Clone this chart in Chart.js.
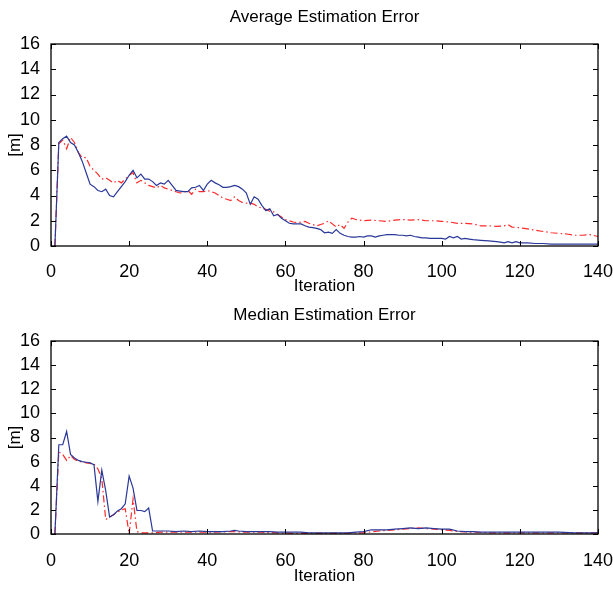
<!DOCTYPE html>
<html>
<head>
<meta charset="utf-8">
<script src="https://cdn.jsdelivr.net/npm/chart.js@4.4.1/dist/chart.umd.min.js"></script>
<style>
  html, body { margin: 0; padding: 0; background: #fff; }
  #wrap { position: relative; width: 613px; height: 590px; }
  canvas { position: absolute; left: 0; }
  #c1 { top: 0; }
  #c2 { top: 300px; }
</style>
</head>
<body>
<div id="wrap">
  <canvas id="c1" width="613" height="300"></canvas>
  <canvas id="c2" width="613" height="290"></canvas>
</div>
<script>
// ---- Data ----
const xTicks = [0, 20, 40, 60, 80, 100, 120, 140];
const yTicks = [0, 2, 4, 6, 8, 10, 12, 14, 16];

// Average Estimation Error – blue solid
const avgBlueIter = [1,2,3,4,5,6,7,8,9,10,11,12,13,14,15,16,17,18,19,20,21,22,23,24,25,26,27,28,29,30,31,32,33,34,35,36,37,38,39,40,41,42,43,44,45,46,47,48,49,50,51,52,53,54,55,56,57,58,59,60,61,62,63,64,65,66,67,68,69,70,71,72,73,74,75,76,77,78,79,80,81,82,83,84,85,86,87,88,89,90,91,92,93,94,95,96,97,98,99,100,101,102,103,104,105,106,107,108,110,112,114,115,116,117,118,119,120,122,124,126,128,130,132,134,136,138,140];
const avgBlueVal  = [0,8.2,8.5,8.7,8.2,8.0,7.4,6.7,5.8,4.9,4.7,4.4,4.3,4.5,4.0,3.9,4.3,4.7,5.1,5.6,6.0,5.4,5.7,5.3,5.3,5.1,4.8,5.0,4.9,5.2,4.8,4.4,4.35,4.3,4.3,4.6,4.65,4.8,4.4,4.9,5.2,5.0,4.85,4.65,4.65,4.7,4.8,4.7,4.5,4.2,3.3,3.9,3.7,3.2,2.8,2.95,2.4,2.5,2.2,2.0,1.8,1.75,1.75,1.75,1.6,1.5,1.45,1.4,1.3,1.05,1.1,1.0,1.3,1.0,0.85,0.75,0.7,0.7,0.75,0.7,0.8,0.8,0.7,0.8,0.85,0.9,0.9,0.9,0.85,0.85,0.8,0.85,0.75,0.7,0.65,0.65,0.6,0.6,0.6,0.6,0.55,0.75,0.65,0.75,0.55,0.6,0.55,0.5,0.45,0.4,0.35,0.3,0.25,0.35,0.25,0.35,0.25,0.25,0.2,0.2,0.15,0.15,0.15,0.15,0.15,0.15,0.15];

// Average Estimation Error – red dash-dot
const avgRedIter = [1,2,3,4,5,6,7,8,9,10,11,12,13,14,15,16,17,18,19,20,21,22,23,24,25,26,27,28,29,30,31,32,33,34,35,36,37,38,39,40,41,42,43,44,45,46,47,48,49,50,51,52,53,54,55,56,57,58,59,60,61,62,63,64,65,66,67,68,69,70,71,72,73,74,75,76,77,78,80,82,84,86,88,90,92,94,96,98,100,102,104,106,108,110,112,114,116,117,118,120,122,124,126,128,130,132,134,136,138,140];
const avgRedVal  = [0,8.1,8.4,7.7,8.6,8.2,7.4,7.0,7.0,6.3,6.0,5.7,5.3,5.4,5.2,5.0,5.2,5.0,5.3,5.6,5.8,5.0,5.2,5.0,4.8,4.7,4.6,4.8,4.6,4.5,4.4,4.3,4.2,4.25,4.4,4.1,4.5,4.3,4.3,4.4,4.3,4.2,4.0,3.8,3.7,3.6,3.9,3.6,3.45,3.4,3.4,3.3,3.1,3.0,2.9,2.75,2.7,2.5,2.3,2.1,2.0,1.9,1.85,1.9,1.95,1.8,1.7,1.6,1.7,1.8,2.0,1.75,1.5,1.7,1.4,1.9,2.2,2.1,2.0,2.05,2.0,1.95,2.05,2.1,2.05,2.1,2.0,2.0,1.95,1.9,1.8,1.8,1.75,1.6,1.6,1.55,1.6,1.7,1.5,1.45,1.35,1.25,1.15,1.05,1.0,0.95,0.85,0.85,0.9,0.75];

// Median Estimation Error – blue solid
const medBlueIter = [1,2,3,4,5,6,7,8,9,10,11,12,13,14,15,16,17,18,19,20,21,22,23,24,25,26,28,30,32,34,36,38,40,42,44,46,47,48,50,52,54,56,58,60,62,64,66,68,70,72,74,76,78,80,82,84,86,88,90,92,94,96,98,100,102,104,106,108,110,114,118,122,126,130,134,140];
const medBlueVal  = [0,7.4,7.4,8.5,6.6,6.3,6.1,6.0,5.95,5.9,5.75,2.7,5.3,3.6,1.4,1.6,1.9,2.1,2.5,4.8,3.8,1.95,1.95,1.85,2.15,0.25,0.25,0.25,0.2,0.25,0.2,0.25,0.2,0.2,0.2,0.25,0.3,0.25,0.2,0.2,0.2,0.2,0.15,0.15,0.15,0.15,0.1,0.1,0.1,0.1,0.1,0.1,0.15,0.2,0.35,0.35,0.35,0.4,0.45,0.5,0.45,0.5,0.45,0.4,0.4,0.25,0.2,0.2,0.15,0.15,0.15,0.15,0.15,0.15,0.1,0.1];

// Median Estimation Error – red dash-dot
const medRedIter = [1,2,3,4,5,6,7,8,9,10,11,12,13,14,15,16,17,18,19,20,21,22,23,24,26,28,30,34,38,42,46,50,54,58,62,66,70,74,78,80,84,88,90,92,94,96,98,100,102,104,108,112,116,120,124,130,140];
const medRedVal  = [0,6.8,6.6,6.1,6.5,6.2,6.0,6.0,5.9,5.85,5.8,5.4,4.6,1.2,1.4,1.6,1.8,2.0,2.1,0,2.9,0.2,0.1,0.1,0.1,0.15,0.15,0.15,0.15,0.15,0.2,0.15,0.15,0.1,0.05,0.05,0.05,0.05,0.1,0.1,0.25,0.35,0.4,0.45,0.5,0.45,0.4,0.35,0.3,0.2,0.15,0.1,0.1,0.1,0.1,0.1,0.1];

const titles = ['Average Estimation Error', 'Median Estimation Error'];
const xLabel = 'Iteration';
const yLabel = '[m]';

// ---- Styling ----
const FONT = "'Liberation Sans', Arial, Helvetica, sans-serif";
const BLUE = '#2a3898';
const RED = '#ff2a2a';

function pts(xs, ys) { return xs.map((x, i) => ({ x: x, y: ys[i] })); }

const boxTicks = {
  id: 'boxTicks',
  afterDatasetsDraw(chart) {
    const { ctx, chartArea: a, scales } = chart;
    const L = 5;
    ctx.save();
    ctx.strokeStyle = '#000';
    ctx.lineWidth = 1;
    ctx.beginPath();
    scales.x.ticks.forEach(t => {
      const px = Math.round(scales.x.getPixelForValue(t.value)) + 0.5;
      ctx.moveTo(px, a.bottom); ctx.lineTo(px, a.bottom - L);
      ctx.moveTo(px, a.top); ctx.lineTo(px, a.top + L);
    });
    scales.y.ticks.forEach(t => {
      const py = Math.round(scales.y.getPixelForValue(t.value)) + 0.5;
      ctx.moveTo(a.left, py); ctx.lineTo(a.left + L, py);
      ctx.moveTo(a.right, py); ctx.lineTo(a.right - L, py);
    });
    ctx.stroke();
    ctx.lineWidth = 1.3;
    ctx.strokeRect(a.left, a.top, a.right - a.left, a.bottom - a.top);
    ctx.restore();
  }
};

function makeChart(id, title, blue, red, lay) {
  return new Chart(document.getElementById(id), {
    type: 'line',
    data: {
      datasets: [
        { data: blue, borderColor: BLUE, borderWidth: 1.2, pointRadius: 0, fill: false, tension: 0 },
        { data: red, borderColor: RED, borderWidth: 1.2, borderDash: [7, 3, 1.5, 3], pointRadius: 0, fill: false, tension: 0 }
      ]
    },
    options: {
      responsive: false,
      animation: false,
      devicePixelRatio: 1,
      layout: { padding: { left: 0, right: 15, top: 0, bottom: 0 } },
      plugins: {
        legend: { display: false },
        tooltip: { enabled: false },
        title: {
          display: true, text: title, color: '#000', fullSize: false,
          font: { family: FONT, size: 17, weight: 'normal', lineHeight: 1.2 },
          padding: { top: lay.titleTop, bottom: lay.titleBottom }
        }
      },
      scales: {
        x: {
          type: 'linear', min: 0, max: 140,
          afterBuildTicks: s => { s.ticks = xTicks.map(v => ({ value: v })); },
          afterFit: s => { s.height = lay.xHeight; s.paddingLeft = 0; s.paddingRight = 0; },
          grid: { display: false },
          border: { display: false },
          ticks: { color: '#000', padding: lay.xTickPad, autoSkip: false, maxRotation: 0, font: { family: FONT, size: 18, lineHeight: 1.2 } },
          title: { display: true, text: xLabel, color: '#000', padding: { top: 0, bottom: 3 }, font: { family: FONT, size: 17, lineHeight: 1.2 } }
        },
        y: {
          type: 'linear', min: 0, max: 16,
          afterBuildTicks: s => { s.ticks = yTicks.map(v => ({ value: v })); },
          afterFit: s => { s.width = 51; },
          grid: { display: false },
          border: { display: false },
          ticks: { color: '#000', padding: 3, autoSkip: false, font: { family: FONT, size: 18, lineHeight: 1.2 } },
          title: { display: true, text: yLabel, color: '#000', padding: { top: 5, bottom: 0 }, font: { family: FONT, size: 17, lineHeight: 1.2 } }
        }
      }
    },
    plugins: [boxTicks]
  });
}

makeChart('c1', titles[0], pts(avgBlueIter, avgBlueVal), pts(avgRedIter, avgRedVal),
  { titleTop: 7, titleBottom: 16.6, xHeight: 54, xTickPad: 7 });
makeChart('c2', titles[1], pts(medBlueIter, medBlueVal), pts(medRedIter, medRedVal),
  { titleTop: 5, titleBottom: 15.6, xHeight: 56, xTickPad: 8 });
</script>
</body>
</html>
